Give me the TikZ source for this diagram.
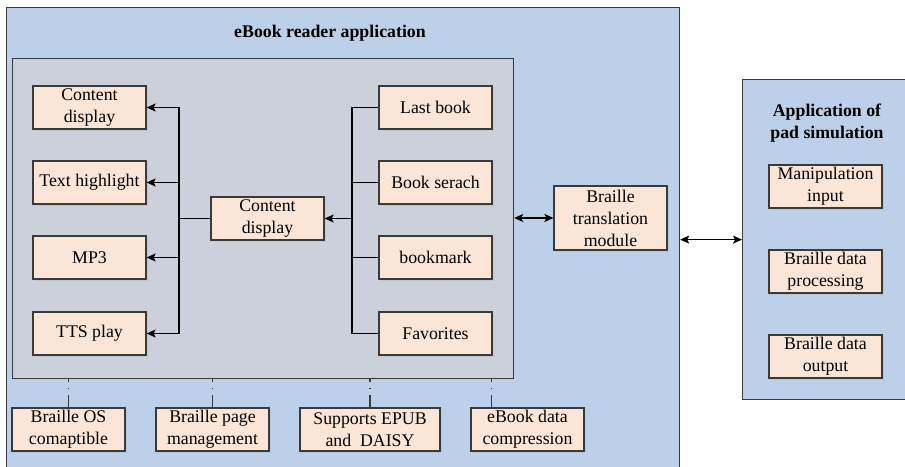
\documentclass[tikz,border=0pt]{standalone}
\usepackage{fontspec}
\setmainfont{LiberationSerif}[Extension=.ttf, UprightFont=*-Regular, BoldFont=*-Bold, ItalicFont=*-Italic, BoldItalicFont=*-BoldItalic]
\usetikzlibrary{arrows.meta,shadows}
\definecolor{appblue}{HTML}{BDD0E9}
\definecolor{coregray}{HTML}{CBD0DA}
\definecolor{peach}{HTML}{FBE5D6}
\definecolor{edge}{HTML}{3A3A3A}
\tikzset{
  txt/.style={font=\fontsize{17.8}{22}\selectfont},
  module/.style={txt, draw=edge, line width=1.2pt, fill=peach, align=center,
    minimum width=113pt, minimum height=43pt, inner sep=0pt,
    drop shadow={opacity=0.12, shadow xshift=1.5pt, shadow yshift=-1.5pt}},
  panel/.style={draw=edge, line width=1.2pt, anchor=north west, inner sep=0pt},
  flow/.style={line width=1.4pt, black},
  arr/.style={flow, -{Stealth[length=9pt,width=8pt,inset=2pt]}},
  biarr/.style={flow, {Stealth[length=9pt,width=8pt,inset=2pt]}-{Stealth[length=9pt,width=8pt,inset=2pt]}},
  dashdot/.style={line width=1.3pt, edge, dash pattern=on 12pt off 6pt on 1.5pt off 6pt},
}
\begin{document}
\begin{tikzpicture}[x=1pt,y=-1pt]
\useasboundingbox (0,0) rectangle (905,466);
\clip (0,0) rectangle (905,466);
\fill[white] (0,0) rectangle (905,466);

% containers
\node[panel, fill=appblue, minimum width=673pt, minimum height=470pt] (reader) at (6,7) {};
\node[panel, fill=coregray, minimum width=501pt, minimum height=320pt] (core) at (12,58) {};
\node[panel, fill=appblue, minimum width=170pt, minimum height=320pt] (pad) at (742,79) {};

% titles
\node[font=\fontsize{17.8}{22}\selectfont\bfseries] (readertitle) at (330,33) {eBook reader application};
\node[font=\fontsize{17.8}{22}\selectfont\bfseries, align=center] (padtitle) at (827,123) {Application of\\pad simulation};

% output functions (left column)
\node[module] (l1) at (89.5,107.5) {Content\\display};
\node[module] (l2) at (89.5,182.5) {Text highlight};
\node[module] (l3) at (89.5,257.5) {MP3};
\node[module] (l4) at (89.5,333.5) {TTS play};

% central display
\node[module] (cd) at (267.5,218.5) {Content\\display};

% user functions (right column)
\node[module] (r1) at (435.5,107.5) {Last book};
\node[module] (r2) at (435.5,182.5) {Book serach};
\node[module] (r3) at (435.5,257.5) {bookmark};
\node[module] (r4) at (435.5,333.5) {Favorites};

% translation module
\node[module, minimum height=64pt] (trans) at (610.5,218) {Braille\\translation\\module};

% pad simulation modules
\node[module] (p1) at (825.5,186.5) {Manipulation\\input};
\node[module] (p2) at (825.5,271.5) {Braille data\\processing};
\node[module] (p3) at (825.5,356.5) {Braille data\\output};

% supporting features (bottom row)
\node[module] (b1) at (68.5,429.5) {Braille OS\\comaptible};
\node[module] (b2) at (212.5,429.5) {Braille page\\management};
\node[module, minimum width=140pt] (b3) at (370,429.5) {Supports EPUB\\and~ DAISY};
\node[module] (b4) at (527.5,429.5) {eBook data\\compression};

% fan-out from the central display
\coordinate (lbus) at (179,218.5);
\draw[flow] (cd.west) -- (lbus);
\foreach \n in {l1,l2,l3,l4} \draw[arr] (lbus) |- (\n.east);

% fan-in to the central display
\coordinate (rbus) at (352,218.5);
\draw[arr] (rbus) -- (cd.east);
\foreach \n in {r1,r2,r3,r4} \draw[flow] (rbus) |- (\n.west);

% links to translation and pad
\draw[biarr] (trans.west -| core.east) -- (trans.west);
\draw[biarr] (pad.west -| reader.east) -- (pad.west);

% feature ties
\draw[dashdot] (b1.north) -- (b1.north |- core.south);
\draw[dashdot] (b2.north) -- (b2.north |- core.south);
\draw[dashdot] (b3.north) -- (b3.north |- core.south);
\coordinate (b4tie) at ([xshift=21pt]b4.north west);
\draw[dashdot] (b4tie) -- (b4tie |- core.south);
\end{tikzpicture}
\end{document}
